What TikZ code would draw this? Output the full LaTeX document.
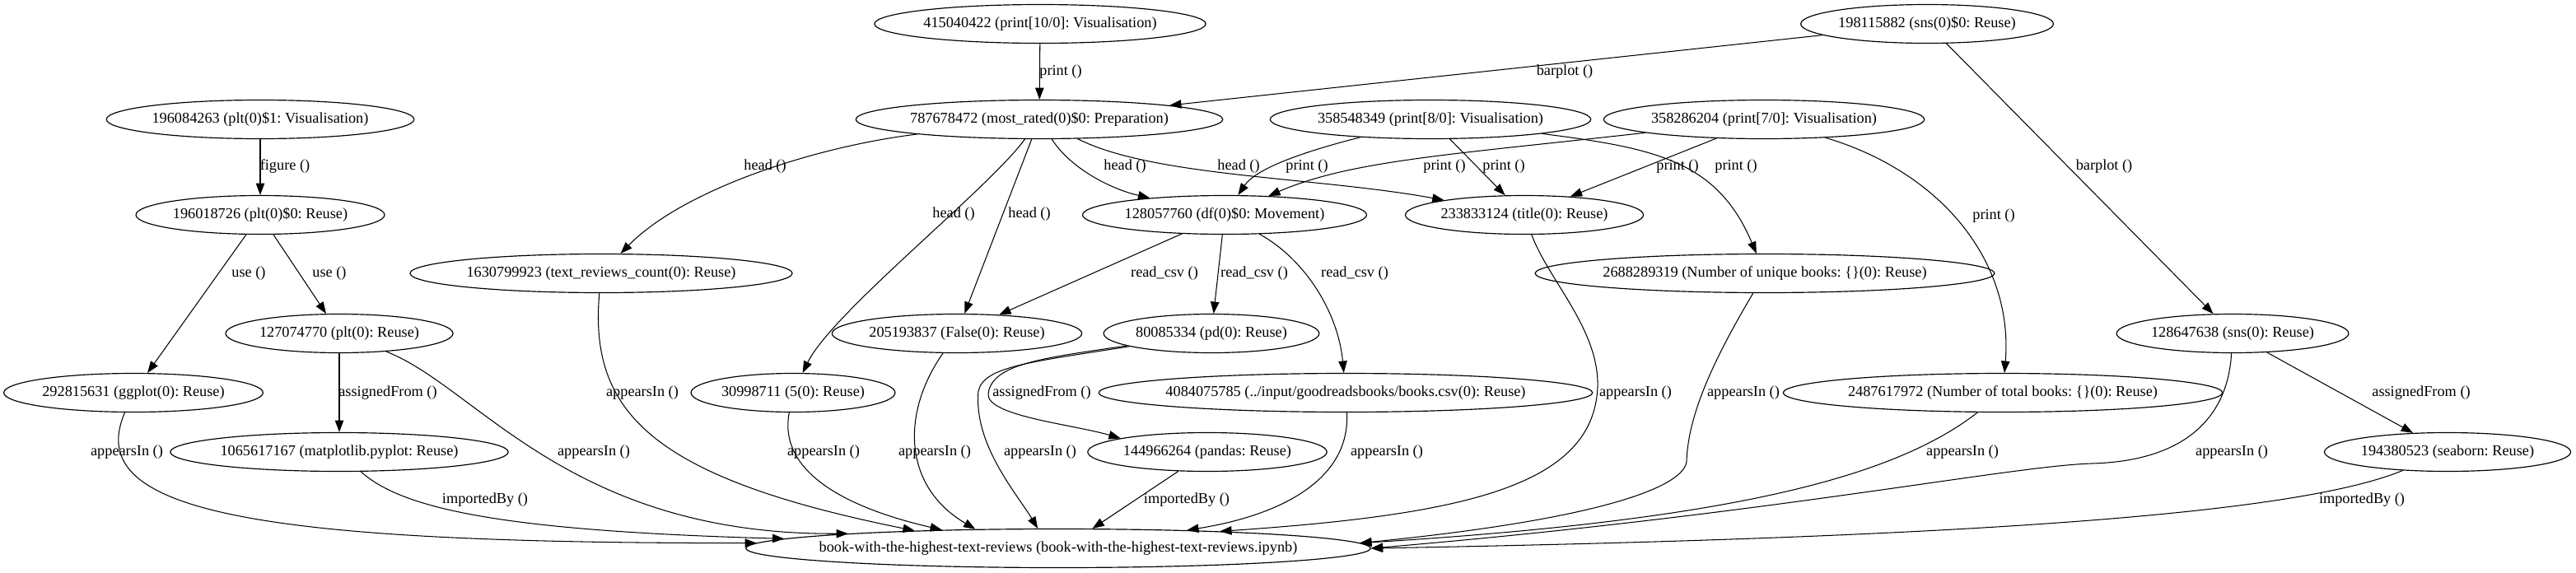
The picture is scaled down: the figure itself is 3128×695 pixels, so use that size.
\documentclass[tikz,border=0pt]{standalone}
\usepackage{fontspec}
\setmainfont{Liberation Serif}
\usetikzlibrary{shapes.geometric, arrows.meta}
\frenchspacing

\begin{document}
\begin{tikzpicture}[x=0.766pt, y=-0.766pt, font=\fontsize{14}{16}\selectfont,
		ell/.style={draw, ellipse, line width=0.9pt, inner xsep=0.5pt, inner ysep=0pt, minimum height=36pt},
		dep/.style={-{Triangle[length=11pt,width=8pt]}, line width=0.8pt},
		lbl/.style={inner sep=0pt}]
		\useasboundingbox (0,0) rectangle (3128,695);
		% nodes, row by row
		\node[ell] (print10) at (1263,29) {415040422 (print[10/0]: Visualisation)};
		\node[ell] (sns0) at (2340,29) {198115882 (sns(0)\$0: Reuse)};
		\node[ell] (plt1) at (316,145) {196084263 (plt(0)\$1: Visualisation)};
		\node[ell] (mostrated) at (1262,145) {787678472 (most\_rated(0)\$0: Preparation)};
		\node[ell] (print8) at (1737,145) {358548349 (print[8/0]: Visualisation)};
		\node[ell] (print7) at (2142,145) {358286204 (print[7/0]: Visualisation)};
		\node[ell] (plt0) at (316,261) {196018726 (plt(0)\$0: Reuse)};
		\node[ell] (df) at (1487,261) {128057760 (df(0)\$0: Movement)};
		\node[ell] (title) at (1851,261) {233833124 (title(0): Reuse)};
		\node[ell] (textrev) at (730,332) {1630799923 (text\_reviews\_count(0): Reuse)};
		\node[ell] (uniq) at (2143,332) {2688289319 (Number of unique books: \{\}(0): Reuse)};
		\node[ell] (plt) at (412,405) {127074770 (plt(0): Reuse)};
		\node[ell] (false) at (1162,405) {205193837 (False(0): Reuse)};
		\node[ell] (pd) at (1471,405) {80085334 (pd(0): Reuse)};
		\node[ell] (sns) at (2711,405) {128647638 (sns(0): Reuse)};
		\node[ell] (ggplot) at (162,477) {292815631 (ggplot(0): Reuse)};
		\node[ell] (five) at (963,477) {30998711 (5(0): Reuse)};
		\node[ell, inner xsep=-5pt] (csv) at (1634,477) {4084075785 (../input/goodreadsbooks/books.csv(0): Reuse)};
		\node[ell] (total) at (2432,477) {2487617972 (Number of total books: \{\}(0): Reuse)};
		\node[ell] (mpl) at (412,549) {1065617167 (matplotlib.pyplot: Reuse)};
		\node[ell] (pandas) at (1466,549) {144966264 (pandas: Reuse)};
		\node[ell] (seaborn) at (2972,549) {194380523 (seaborn: Reuse)};
		\node[ell, inner xsep=-17pt] (nb) at (1285,666) {book-with-the-highest-text-reviews (book-with-the-highest-text-reviews.ipynb)};
		% edges
		\draw[dep] (print10) -- (mostrated) node[lbl, at={(1288,87)}] {print ()};
		\draw[dep] (sns0) -- (mostrated) node[lbl, at={(1900,87)}] {barplot ()};
		\draw[dep] (sns0) -- (sns) node[lbl, at={(2555,202)}] {barplot ()};
		\draw[dep] (plt1) -- (plt0) node[lbl, at={(346,202)}] {figure ()};
		\draw[dep] (plt0) -- (ggplot) node[lbl, at={(302,332)}] {use ()};
		\draw[dep] (plt0) -- (plt) node[lbl, at={(400,332)}] {use ()};
		\draw[dep] (mostrated) .. controls (990,178) and (830,230) .. (textrev) node[lbl, at={(929,202)}] {head ()};
		\draw[dep] (mostrated) .. controls (1200,230) and (1010,380) .. (five) node[lbl, at={(1158,260)}] {head ()};
		\draw[dep] (mostrated) -- (false) node[lbl, at={(1250,260)}] {head ()};
		\draw[dep] (mostrated) .. controls (1300,205) and (1350,230) .. (df) node[lbl, at={(1366,202)}] {head ()};
		\draw[dep] (mostrated) .. controls (1400,215) and (1600,215) .. (title) node[lbl, at={(1504,202)}] {head ()};
		\draw[dep] (print8) .. controls (1580,185) and (1525,205) .. (df) node[lbl, at={(1587,202)}] {print ()};
		\draw[dep] (print8) -- (title) node[lbl, at={(1826,202)}] {print ()};
		\draw[dep] (print8) .. controls (2010,180) and (2085,195) .. (uniq) node[lbl, at={(2108,202)}] {print ()};
		\draw[dep] (print7) .. controls (1760,188) and (1640,195) .. (df) node[lbl, at={(1754,202)}] {print ()};
		\draw[dep] (print7) -- (title) node[lbl, at={(2037,202)}] {print ()};
		\draw[dep] (print7) .. controls (2360,210) and (2445,320) .. (total) node[lbl, at={(2421,262)}] {print ()};
		\draw[dep] (df) -- (false) node[lbl, at={(1414,332)}] {read\_csv ()};
		\draw[dep] (df) -- (pd) node[lbl, at={(1523,332)}] {read\_csv ()};
		\draw[dep] (df) .. controls (1585,315) and (1625,380) .. (csv) node[lbl, at={(1645,332)}] {read\_csv ()};
		\draw[dep] (plt) -- (mpl) node[lbl, at={(471,477)}] {assignedFrom ()};
		\draw[dep] (plt) .. controls (580,470) and (690,650) .. (nb.176.7) node[lbl, at={(721,549)}] {appearsIn ()};
		\draw[dep] (ggplot) .. controls (100,620) and (300,660) .. (nb.179.3) node[lbl, at={(154,549)}] {appearsIn ()};
		\draw[dep] (mpl) .. controls (490,620) and (620,645) .. (nb.178.6) node[lbl, at={(589,607)}] {importedBy ()};
		\draw[dep] (textrev) .. controls (715,500) and (790,580) .. (nb.173.9) node[lbl, at={(780,477)}] {appearsIn ()};
		\draw[dep] (five) .. controls (945,570) and (1020,615) .. (nb.171.7) node[lbl, at={(1000,549)}] {appearsIn ()};
		\draw[dep] (false) .. controls (1095,500) and (1095,590) .. (nb.167.7) node[lbl, at={(1135,549)}] {appearsIn ()};
		\draw[dep] (pd) .. controls (1250,440) and (1195,445) .. (1188,475) .. controls (1182,540) and (1235,600) .. (nb.136.2) node[lbl, at={(1263,549)}] {appearsIn ()};
		\draw[dep] (pd) .. controls (1265,435) and (1205,442) .. (1200,478) .. controls (1197,505) and (1300,515) .. (pandas.171) node[lbl, at={(1265,477)}] {assignedFrom ()};
		\draw[dep] (pandas) -- (nb.30.2) node[lbl, at={(1441,607)}] {importedBy ()};
		\draw[dep] (csv) .. controls (1640,580) and (1560,625) .. (nb.8.4) node[lbl, at={(1684,549)}] {appearsIn ()};
		\draw[dep] (title) .. controls (1880,340) and (1942,400) .. (1940,470) .. controls (1935,590) and (1780,625) .. (nb.6.2) node[lbl, at={(1986,477)}] {appearsIn ()};
		\draw[dep] (uniq) .. controls (2085,430) and (2050,500) .. (2048,560) .. controls (2046,590) and (1950,630) .. (nb.1.6) node[lbl, at={(2117,477)}] {appearsIn ()};
		\draw[dep] (total) .. controls (2300,580) and (2100,632) .. (nb.1.2) node[lbl, at={(2383,549)}] {appearsIn ()};
		\draw[dep] (sns) .. controls (2705,510) and (2650,560) .. (2540,563) .. controls (2440,566) and (2150,625) .. (nb.0.6) node[lbl, at={(2710,549)}] {appearsIn ()};
		\draw[dep] (sns) -- (seaborn) node[lbl, at={(2940,477)}] {assignedFrom ()};
		\draw[dep] (seaborn) .. controls (2800,620) and (2450,652) .. (nb.0.2) node[lbl, at={(2868,607)}] {importedBy ()};
	\end{tikzpicture}
\end{document}
